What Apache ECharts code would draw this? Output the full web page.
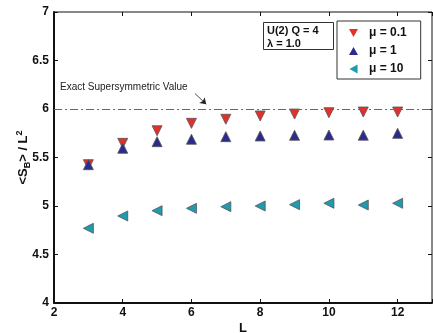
<!DOCTYPE html>
<html><head><meta charset="utf-8">
<script src="https://cdn.jsdelivr.net/npm/echarts@6/dist/echarts.min.js"></script>
<style>html,body{margin:0;padding:0;background:#fff}#c{width:433px;height:333px}</style>
</head><body><div id="c"></div>
<script>
const L = [3,4,5,6,7,8,9,10,11,12];
const mu01 = [5.426,5.646,5.776,5.852,5.894,5.928,5.948,5.962,5.969,5.969];
const mu1  = [5.426,5.595,5.663,5.688,5.715,5.722,5.729,5.732,5.730,5.749];
const mu10 = [4.770,4.897,4.952,4.976,4.993,5.000,5.014,5.028,5.010,5.028];
const names = ['\u03bc = 0.1','\u03bc = 1','\u03bc = 10'];
const exactValue = 6;
const xTicks = [2,4,6,8,10,12];

const chart = echarts.init(document.getElementById('c'));
const FONT = 'Liberation Sans';
const pair = (ys) => L.map((x,i)=>[x,ys[i]]);
const mk = (name, data, color, rot, size) => ({
  name, type:'scatter', data, symbol:'triangle', symbolRotate:rot, symbolSize:size,
  itemStyle:{color, borderColor:'#555', borderWidth:0.8, opacity:1}, z:3
});
const C = ['#e4302a','#2b2b8e','#1f9bb0'];
const s1 = mk(names[0], pair(mu01), C[0], 180, 10);
const s2 = mk(names[1], pair(mu1), C[1], 0, 10);
const s3 = mk(names[2], pair(mu10), C[2], 90, 10);
s1.markLine = {
  silent:true, symbol:['none','none'], label:{show:false},
  lineStyle:{color:'#666', type:[8,3,2,3], width:1},
  data:[[{coord:[2,exactValue]},{coord:[13,exactValue]}]]
};
s2.markLine = {
  silent:true, symbol:['none','arrow'], symbolSize:6, label:{show:false},
  lineStyle:{color:'#222', type:'solid', width:0.8},
  data:[[{coord:[6.1,6.16]},{coord:[6.43,6.05]}]]
};
const axisLbl = {fontFamily:FONT, fontWeight:'bold', fontSize:12, color:'#111'};
chart.setOption({
  animation:false,
  grid:{left:54, right:1, top:12, bottom:30, outerBoundsMode:'none', containLabel:false,
        show:true, borderColor:'#111', borderWidth:1},
  xAxis:[{
    type:'value', min:2, max:13, interval:2,
    axisLine:{lineStyle:{color:'#111', width:2}},
    axisTick:{inside:true, length:4, lineStyle:{color:'#111'}},
    splitLine:{show:false},
    axisLabel:Object.assign({margin:4, formatter:v=> xTicks.includes(v)? String(v):''}, axisLbl),
    name:'L', nameLocation:'middle', nameGap:19, nameMoveOverlap:false,
    nameTextStyle:{fontFamily:FONT, fontWeight:'bold', fontSize:13, color:'#111'}
  },{
    type:'value', position:'top', min:2, max:13, interval:2,
    axisLine:{show:false}, axisTick:{inside:true, length:4, lineStyle:{color:'#111'}},
    axisLabel:{show:false}, splitLine:{show:false}
  }],
  yAxis:[{
    type:'value', min:4, max:7, interval:0.5,
    axisLine:{lineStyle:{color:'#111', width:2}},
    axisTick:{inside:true, length:4, lineStyle:{color:'#111'}},
    splitLine:{show:false},
    axisLabel:Object.assign({margin:5}, axisLbl),
    name:'<S{sub|B}> / L{sup|2}', nameLocation:'middle', nameRotate:90, nameGap:22, nameMoveOverlap:false,
    nameTextStyle:{fontFamily:FONT, fontWeight:'bold', fontSize:13, color:'#111',
      rich:{sub:{fontFamily:FONT, fontWeight:'bold', fontSize:9, color:'#111', verticalAlign:'bottom', padding:[8,0,0,0]},
            sup:{fontFamily:FONT, fontWeight:'bold', fontSize:9, color:'#111', verticalAlign:'top', padding:[0,0,8,0]}}}
  },{
    type:'value', position:'right', min:4, max:7, interval:0.5,
    axisLine:{show:false}, axisTick:{inside:true, length:4, lineStyle:{color:'#111'}},
    axisLabel:{show:false}, splitLine:{show:false}
  }],
  legend:{
    orient:'vertical', left:337, top:21, width:86, padding:[6,14,4,12],
    itemGap:6, itemWidth:9, itemHeight:9,
    backgroundColor:'#fff', borderColor:'#333', borderWidth:1,
    textStyle:{fontFamily:FONT, fontWeight:'bold', fontSize:12, color:'#111', padding:[0,0,0,6]},
    data:[
      {name:names[0], icon:'path://M0,0L10,0L5,9Z', itemStyle:{color:C[0], borderWidth:0}},
      {name:names[1], icon:'path://M5,0L10,9L0,9Z', itemStyle:{color:C[1], borderWidth:0}},
      {name:names[2], icon:'path://M9,0L9,10L0,5Z', itemStyle:{color:C[2], borderWidth:0}}
    ]
  },
  graphic:[
    {type:'rect', left:263, top:22, shape:{width:70, height:27}, style:{fill:'#fff', stroke:'#333', lineWidth:1}, z:10},
    {type:'text', left:267, top:24, style:{text:'U(2) Q = 4\n\u03bb = 1.0', font:'bold 11px '+FONT, fill:'#111', lineHeight:13}, z:11},
    {type:'text', left:60, top:82, style:{text:'Exact Supersymmetric Value', font:'10px '+FONT, fill:'#222'}, z:11}
  ],
  series:[s1,s2,s3]
});
</script></body></html>
